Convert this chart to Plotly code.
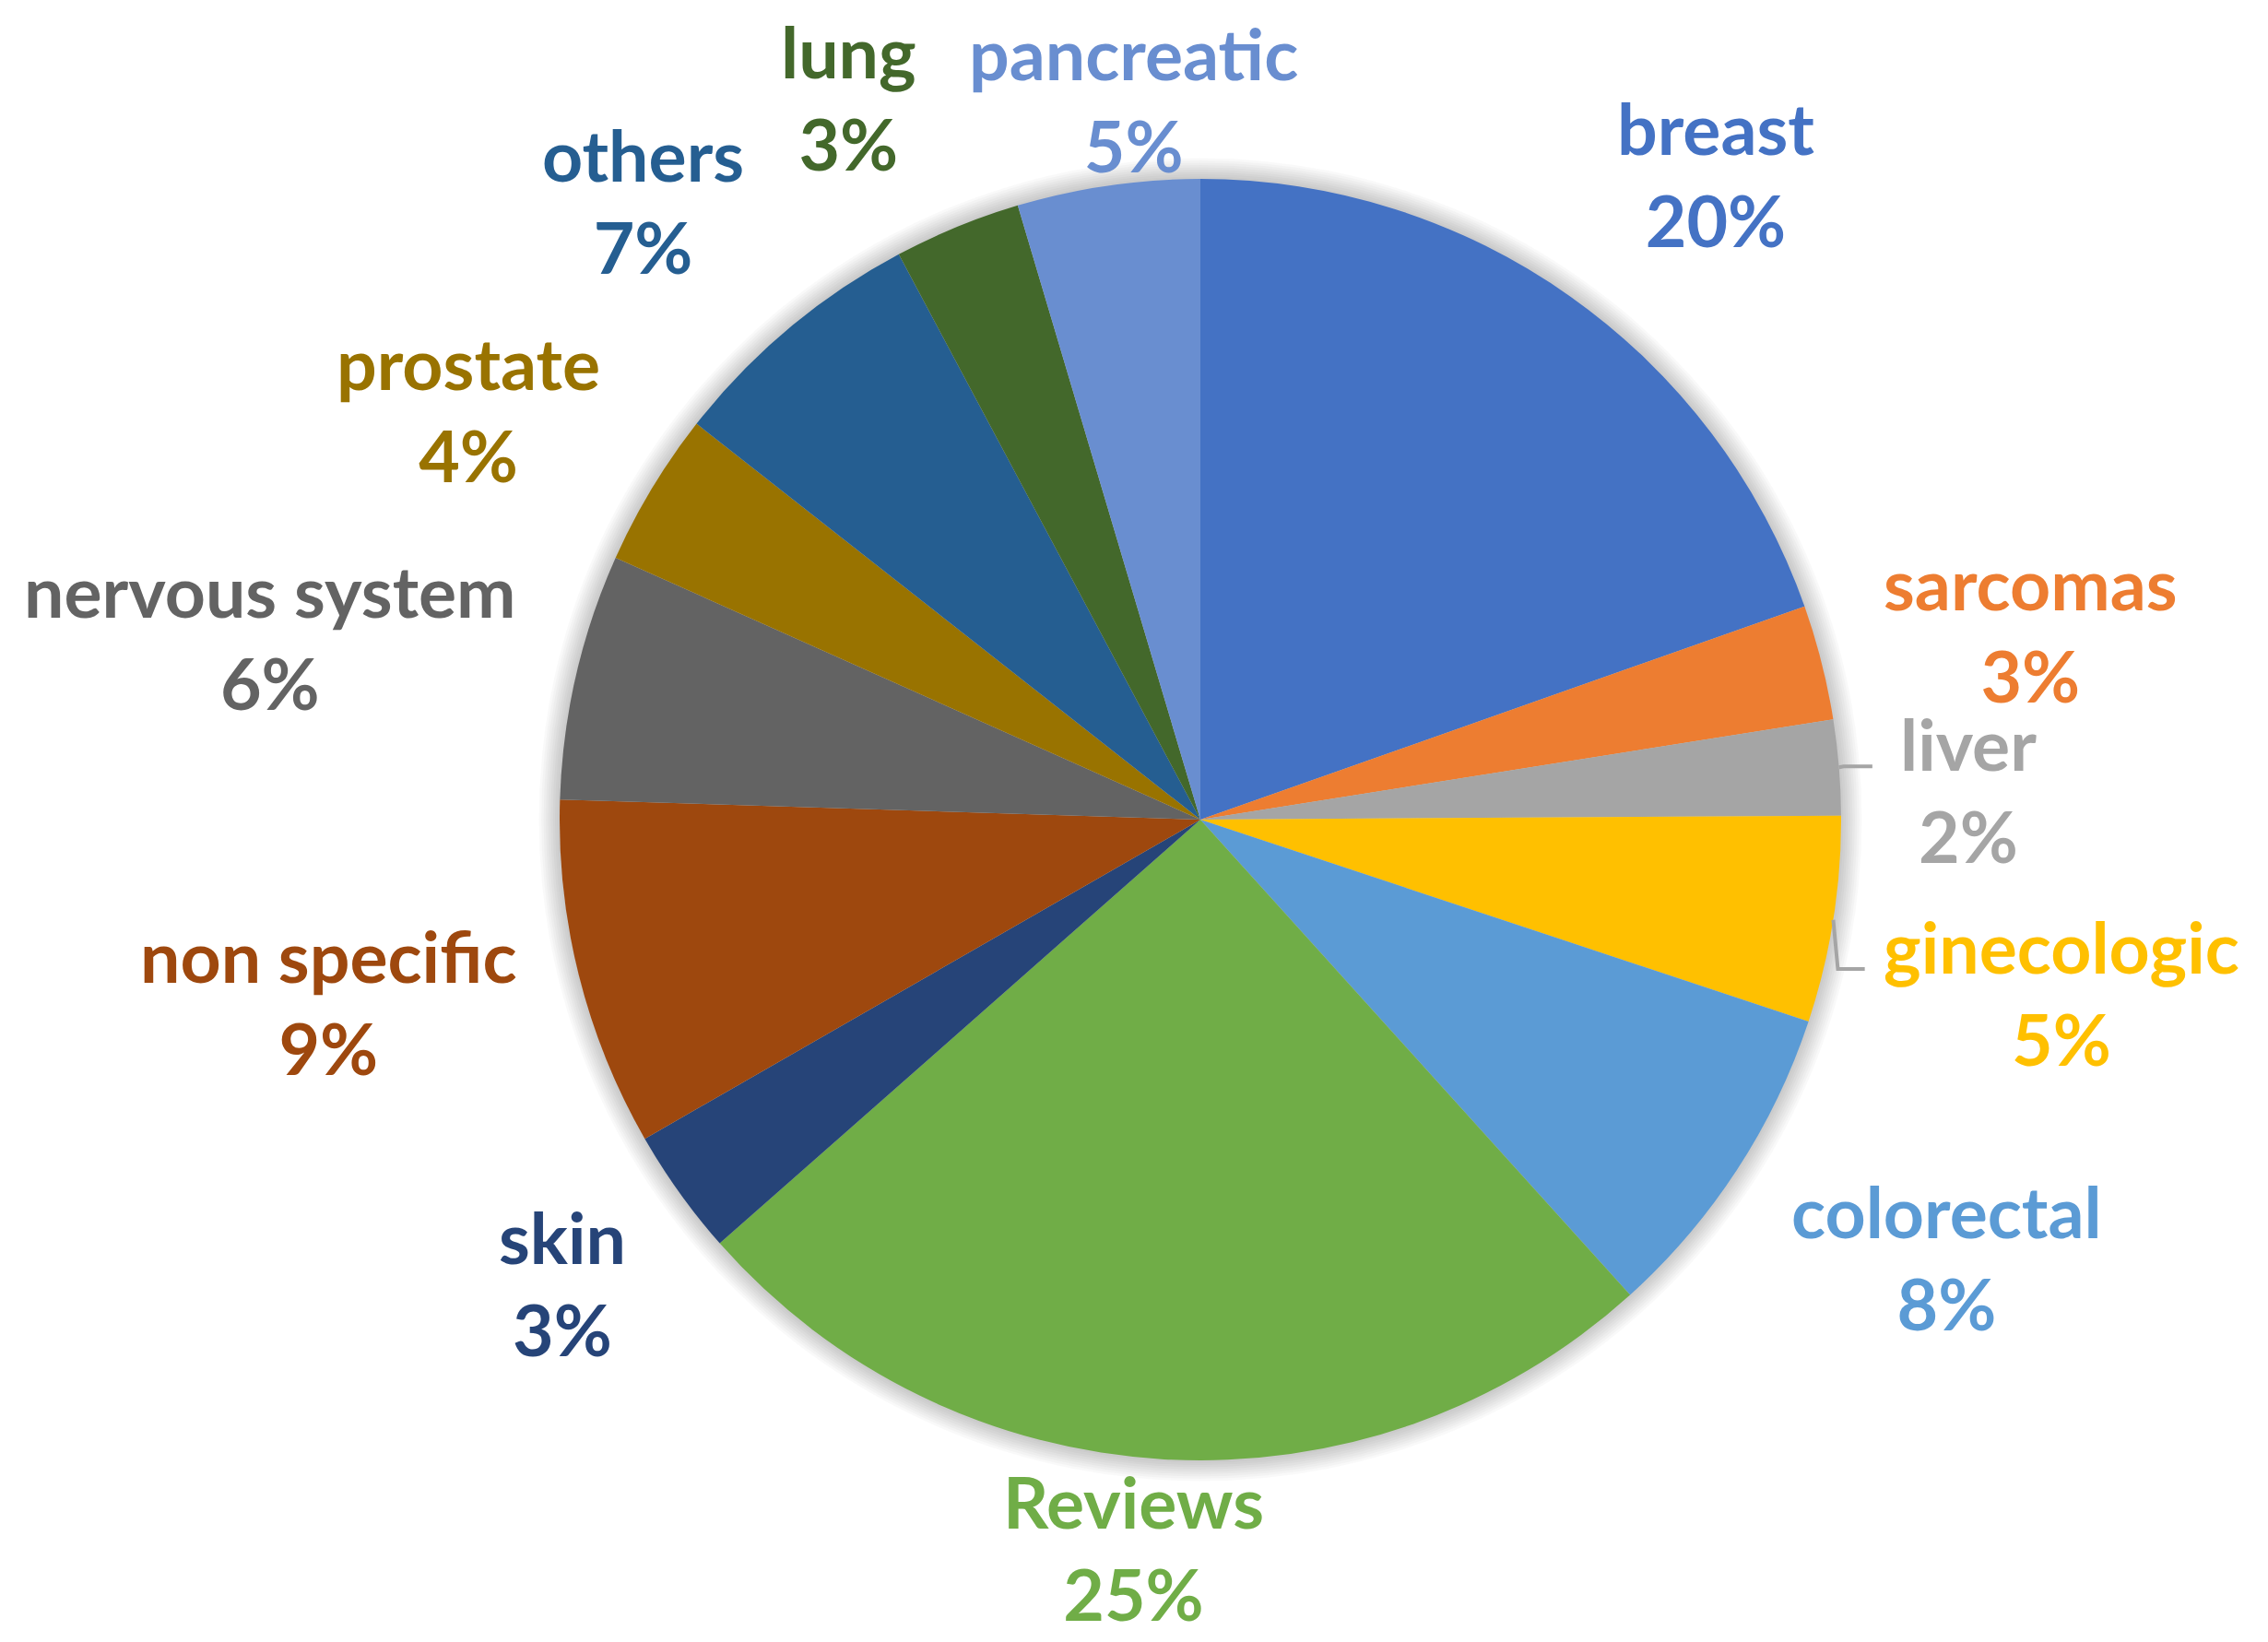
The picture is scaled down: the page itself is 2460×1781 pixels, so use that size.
import numpy as np
import plotly.graph_objects as go

# slice data, clockwise from 12 o'clock
labels = ['breast', 'sarcomas', 'liver', 'ginecologic', 'colorectal', 'Reviews', 'skin',
          'non specific', 'nervous system', 'prostate', 'others', 'lung', 'pancreatic']
values = [19.6, 2.9, 2.4, 5.2, 8.2, 25.2, 3.2, 8.8, 6.2, 3.9, 6.6, 3.2, 4.6]
colors = ['#4472C4', '#ED7D31', '#A5A5A5', '#FFC000', '#5B9BD5', '#70AD47', '#264478',
          '#9E480E', '#636363', '#997300', '#255E91', '#43682B', '#698ED0']

# label placement (distance from centre in radii, angular nudge in degrees)
label_dist = [1.29, 1.33, 1.20, 1.37, 1.35, 1.14, 1.23, 1.39, 1.48, 1.31, 1.30, 1.255, 1.13]
label_nudge = [3.3, 1.3, 2.4, 2.3, -2.8, 2.0, -0.3, 2.3, -1.8, -1.8, -2.0, -3.6, 3.0]
leader = ['liver', 'ginecologic']

W, H = 2460, 1781
page_off = 8                 # body margin of the html page
cx, cy, r = 1302 - page_off, 889 - page_off, 695   # pie centre / radius in px
font_size = 77

dom_x = [(cx - r) / W, (cx + r) / W]
dom_y = [1 - (cy + r) / H, 1 - (cy - r) / H]

def px2paper(x, y):
    return x / W, 1 - y / H

fig = go.Figure(go.Pie(
    labels=labels,
    values=values,
    marker=dict(colors=colors, line=dict(width=0)),
    sort=False,
    direction='clockwise',
    rotation=0,
    textinfo='none',
    hoverinfo='label+percent',
    domain=dict(x=dom_x, y=dom_y),
    showlegend=False,
))

# soft shadow around the pie
shapes = []
for k in range(1, 10):
    rr = r + 2.5 * k
    x0, y0 = px2paper(cx - rr, cy + rr)
    x1, y1 = px2paper(cx + rr, cy - rr)
    shapes.append(dict(type='circle', xref='paper', yref='paper', x0=x0, y0=y0, x1=x1, y1=y1,
                       line=dict(width=0), fillcolor='rgba(0,0,0,0.022)', layer='below'))

total = sum(values)
cum = np.cumsum([0] + values)
annotations = []
for i, lab in enumerate(labels):
    mid = (cum[i] + cum[i + 1]) / 2 / total * 360
    pct = round(values[i] / total * 100)
    th = np.radians(mid + label_nudge[i])
    lx = cx + label_dist[i] * r * np.sin(th)
    ly = cy - label_dist[i] * r * np.cos(th)
    ax, ay = px2paper(lx, ly)
    annotations.append(dict(
        x=ax, y=ay, xref='paper', yref='paper', xanchor='center', yanchor='middle',
        text=f'{lab}<br>{pct}%', showarrow=False, align='center', borderpad=0,
        font=dict(family='Lato', size=font_size, color=colors[i], weight=700),
    ))
    if lab in leader:
        tm = np.radians(mid)
        ex = cx + r * np.sin(tm)
        ey = cy - r * np.cos(tm)
        hook_y = ly - 0.32 * font_size
        end_x = lx - 0.235 * font_size * len(lab) - 14
        pts = [px2paper(ex, ey), px2paper(ex + 5, hook_y), px2paper(end_x, hook_y)]
        path = 'M {} {} L {} {} L {} {}'.format(*[c for p in pts for c in p])
        shapes.append(dict(type='path', xref='paper', yref='paper', path=path,
                           line=dict(color='#A5A5A5', width=4)))

fig.update_layout(
    width=W, height=H,
    margin=dict(l=0, r=0, t=0, b=0),
    paper_bgcolor='white',
    plot_bgcolor='white',
    shapes=shapes,
    annotations=annotations,
)

fig.write_html('out.html')
